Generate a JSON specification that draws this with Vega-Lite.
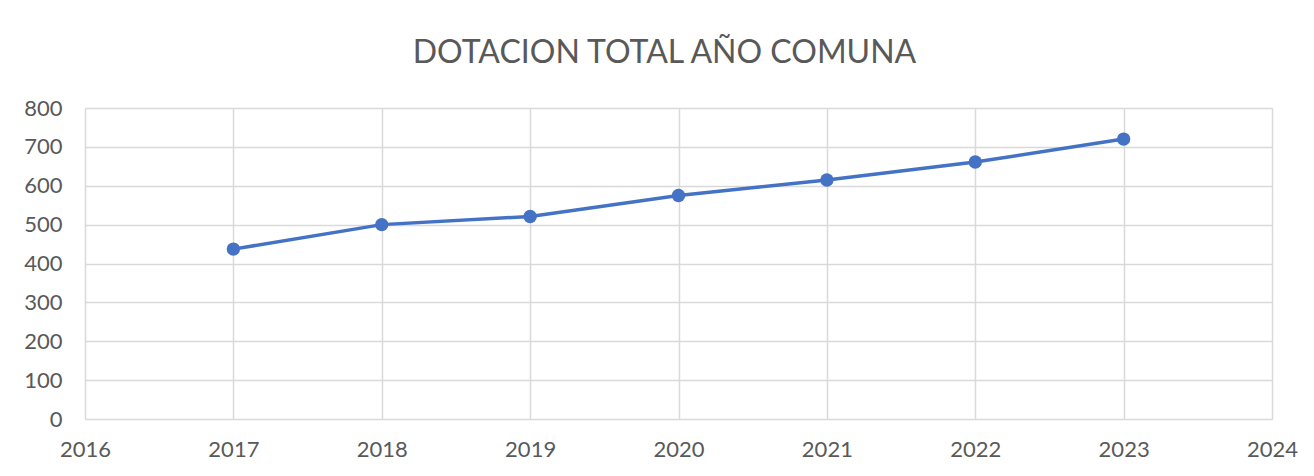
{
  "$schema": "https://vega.github.io/schema/vega-lite/v6.json",
  "width": 1187,
  "height": 311,
  "autosize": {"type": "none"},
  "padding": {"left": 85, "top": 108, "right": 42, "bottom": 57},
  "background": "white",
  "title": {
    "text": "DOTACION TOTAL AÑO COMUNA",
    "font": "Lato",
    "fontSize": 32,
    "fontWeight": "normal",
    "color": "#595959",
    "anchor": "middle",
    "frame": "group",
    "offset": 27,
    "dx": -14
  },
  "data": {
    "values": [
      {"year": 2017, "dotacion": 437},
      {"year": 2018, "dotacion": 500},
      {"year": 2019, "dotacion": 521},
      {"year": 2020, "dotacion": 575},
      {"year": 2021, "dotacion": 615},
      {"year": 2022, "dotacion": 661},
      {"year": 2023, "dotacion": 720}
    ]
  },
  "mark": {"type": "line", "color": "#4472C4", "strokeWidth": 3.5, "point": {"filled": true, "size": 180, "color": "#4472C4", "opacity": 1}},
  "encoding": {
    "x": {
      "field": "year", "type": "quantitative",
      "scale": {"domain": [2016, 2024], "nice": false, "zero": false},
      "axis": {"title": null, "values": [2016, 2017, 2018, 2019, 2020, 2021, 2022, 2023, 2024], "format": "d", "labelPadding": 20, "labelFlush": false, "labelOverlap": false, "labelBound": false}
    },
    "y": {
      "field": "dotacion", "type": "quantitative",
      "scale": {"domain": [0, 800], "nice": false},
      "axis": {"title": null, "values": [0, 100, 200, 300, 400, 500, 600, 700, 800], "labelPadding": 23, "labelFlush": false, "labelOverlap": false}
    }
  },
  "config": {
    "view": {"stroke": null},
    "axis": {
      "domain": false,
      "ticks": false,
      "grid": true,
      "gridColor": "#d9d9d9",
      "gridWidth": 1.5,
      "labelFont": "Lato",
      "labelFontSize": 22,
      "labelColor": "#595959"
    }
  }
}
